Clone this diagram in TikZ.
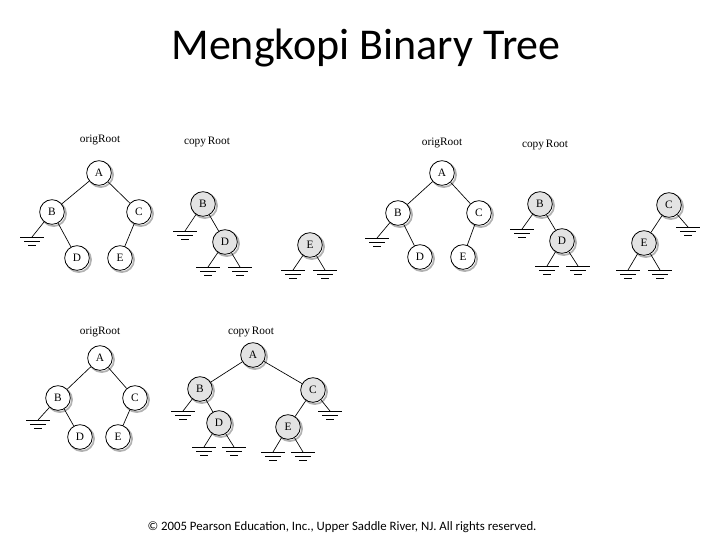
\documentclass[tikz,border=0pt]{standalone}
\usepackage{fontspec}
\setmainfont{Liberation Serif}
\newfontfamily\calfont{Carlito}
\begin{document}
\begin{tikzpicture}[x=0.75pt,y=-0.75pt,
  tn/.style={circle,draw,line width=0.6pt,minimum size=18.5pt,inner sep=0pt,font=\fontsize{8.5}{9}\selectfont,fill=white,
    preaction={draw=gray!60,line width=1.3pt,transform canvas={shift={(1.3pt,-1.3pt)}}}},
  gn/.style={tn,fill=gray!22},
  lbl/.style={font=\fontsize{8.5}{9}\selectfont},
  ed/.style={line width=0.5pt}]
\useasboundingbox (0,0) rectangle (720,540);
\newcommand\gnd[2]{\coordinate (g) at (#2);\draw[ed] (#1) -- (g);
 \draw[ed] ([xshift=-9pt]g) -- ([xshift=9pt]g);
 \draw[ed] ([xshift=-6pt,yshift=-3pt]g) -- ([xshift=6pt,yshift=-3pt]g);
 \draw[ed] ([xshift=-3pt,yshift=-6pt]g) -- ([xshift=3pt,yshift=-6pt]g);}
\node[font=\calfont\fontsize{33}{36}\selectfont] (title) at (366,48) {Mengkopi Binary Tree};
\node[font=\calfont\fontsize{9.6}{11}\selectfont] (foot) at (342,527) {© 2005 Pearson Education, Inc., Upper Saddle River, NJ. All rights reserved.};
% panel 1
\node[lbl] (l1) at (100,140) {origRoot};
\node[tn] (a1) at (99,173) {A};
\node[tn] (b1) at (52,212) {B};
\node[tn] (c1) at (139,212) {C};
\node[tn] (d1) at (77,258) {D};
\node[tn] (e1) at (120,258) {E};
\draw[ed] (a1)--(b1) (a1)--(c1) (b1)--(d1) (c1)--(e1);
\gnd{b1}{32,237}
\node[lbl] (l2) at (207,142) {copy\,Root};
\node[gn] (b2) at (203,204) {B};
\node[gn] (d2) at (225,242) {D};
\node[gn] (e2) at (310,245) {E};
\draw[ed] (b2)--(d2);
\gnd{b2}{185,231}
\gnd{d2}{208,267}\gnd{d2}{240,267}
\gnd{e2}{293,270}\gnd{e2}{325,270}
% panel 2
\node[lbl] (l3) at (442,143) {origRoot};
\node[tn] (a3) at (442,173) {A};
\node[tn] (b3) at (398,213) {B};
\node[tn] (c3) at (479,213) {C};
\node[tn] (d3) at (420,257) {D};
\node[tn] (e3) at (463,257) {E};
\draw[ed] (a3)--(b3) (a3)--(c3) (b3)--(d3) (c3)--(e3);
\gnd{b3}{377,238}
\node[lbl] (l4) at (545,145) {copy\,Root};
\node[gn] (b4) at (540,204) {B};
\node[gn] (d4) at (562,241) {D};
\draw[ed] (b4)--(d4);
\gnd{b4}{522,229}
\gnd{d4}{547,266}\gnd{d4}{578,266}
\node[gn] (c4) at (669,205) {C};
\node[gn] (e4) at (644,243) {E};
\draw[ed] (c4)--(e4);
\gnd{c4}{688,227}
\gnd{e4}{628,270}\gnd{e4}{660,270}
% panel 3
\node[lbl] (l5) at (100,332) {origRoot};
\node[tn] (a5) at (100,358) {A};
\node[tn] (b5) at (58,398) {B};
\node[tn] (c5) at (135,398) {C};
\node[tn] (d5) at (80,437) {D};
\node[tn] (e5) at (118,437) {E};
\draw[ed] (a5)--(b5) (a5)--(c5) (b5)--(d5) (c5)--(e5);
\gnd{b5}{38,420}
\node[lbl] (l6) at (251,332) {copy\,Root};
\node[gn] (a6) at (253,355) {A};
\node[gn] (b6) at (200,389) {B};
\node[gn] (c6) at (313,390) {C};
\node[gn] (d6) at (219,423) {D};
\node[gn] (e6) at (288,427) {E};
\draw[ed] (a6)--(b6) (a6)--(c6) (b6)--(d6) (c6)--(e6);
\gnd{b6}{183,411}
\gnd{c6}{330,411}
\gnd{d6}{204,447}\gnd{d6}{234,447}
\gnd{e6}{273,452}\gnd{e6}{303,452}
\end{tikzpicture}
\end{document}
